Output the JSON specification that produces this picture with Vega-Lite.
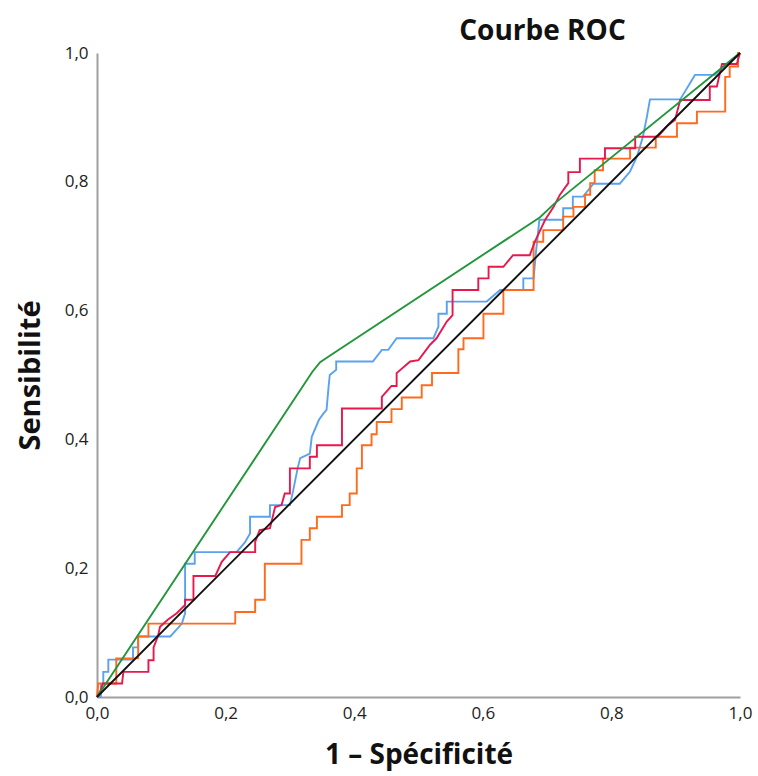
{
  "$schema": "https://vega.github.io/schema/vega-lite/v6.json",
  "width": 643,
  "height": 644,
  "autosize": {"type": "none"},
  "padding": {"left": 97, "top": 53, "right": 18, "bottom": 79},
  "background": "white",
  "title": {"text": "Courbe ROC", "font": "Open Sans", "fontSize": 28, "fontWeight": "bold", "color": "#111111", "anchor": "middle", "dx": 124, "offset": -2},
  "datasets": {
    "roc": [
      {"c": "b", "i": 1, "x": 0, "y": 0}, {"c": "b", "i": 2, "x": 0.006, "y": 0}, {"c": "b", "i": 3, "x": 0.006, "y": 0.02}, {"c": "b", "i": 4, "x": 0.0098, "y": 0.02},
      {"c": "b", "i": 5, "x": 0.0098, "y": 0.039}, {"c": "b", "i": 6, "x": 0.0176, "y": 0.039}, {"c": "b", "i": 7, "x": 0.0176, "y": 0.058}, {"c": "b", "i": 8, "x": 0.056, "y": 0.058},
      {"c": "b", "i": 9, "x": 0.056, "y": 0.077}, {"c": "b", "i": 10, "x": 0.064, "y": 0.077}, {"c": "b", "i": 11, "x": 0.064, "y": 0.094}, {"c": "b", "i": 12, "x": 0.114, "y": 0.094},
      {"c": "b", "i": 13, "x": 0.124, "y": 0.105}, {"c": "b", "i": 14, "x": 0.132, "y": 0.114}, {"c": "b", "i": 15, "x": 0.137, "y": 0.13}, {"c": "b", "i": 16, "x": 0.137, "y": 0.207},
      {"c": "b", "i": 17, "x": 0.152, "y": 0.207}, {"c": "b", "i": 18, "x": 0.152, "y": 0.225}, {"c": "b", "i": 19, "x": 0.217, "y": 0.225}, {"c": "b", "i": 20, "x": 0.23, "y": 0.24},
      {"c": "b", "i": 21, "x": 0.238, "y": 0.254}, {"c": "b", "i": 22, "x": 0.238, "y": 0.28}, {"c": "b", "i": 23, "x": 0.269, "y": 0.28}, {"c": "b", "i": 24, "x": 0.269, "y": 0.298},
      {"c": "b", "i": 25, "x": 0.3, "y": 0.298}, {"c": "b", "i": 26, "x": 0.305, "y": 0.32}, {"c": "b", "i": 27, "x": 0.312, "y": 0.355}, {"c": "b", "i": 28, "x": 0.316, "y": 0.371},
      {"c": "b", "i": 29, "x": 0.331, "y": 0.378}, {"c": "b", "i": 30, "x": 0.334, "y": 0.404}, {"c": "b", "i": 31, "x": 0.345, "y": 0.43}, {"c": "b", "i": 32, "x": 0.352, "y": 0.44},
      {"c": "b", "i": 33, "x": 0.357, "y": 0.446}, {"c": "b", "i": 34, "x": 0.36, "y": 0.48}, {"c": "b", "i": 35, "x": 0.362, "y": 0.5}, {"c": "b", "i": 36, "x": 0.372, "y": 0.508},
      {"c": "b", "i": 37, "x": 0.372, "y": 0.521}, {"c": "b", "i": 38, "x": 0.429, "y": 0.521}, {"c": "b", "i": 39, "x": 0.443, "y": 0.539}, {"c": "b", "i": 40, "x": 0.453, "y": 0.539},
      {"c": "b", "i": 41, "x": 0.466, "y": 0.557}, {"c": "b", "i": 42, "x": 0.523, "y": 0.557}, {"c": "b", "i": 43, "x": 0.531, "y": 0.575}, {"c": "b", "i": 44, "x": 0.531, "y": 0.595},
      {"c": "b", "i": 45, "x": 0.544, "y": 0.595}, {"c": "b", "i": 46, "x": 0.544, "y": 0.614}, {"c": "b", "i": 47, "x": 0.606, "y": 0.614}, {"c": "b", "i": 48, "x": 0.627, "y": 0.632},
      {"c": "b", "i": 49, "x": 0.663, "y": 0.632}, {"c": "b", "i": 50, "x": 0.663, "y": 0.65}, {"c": "b", "i": 51, "x": 0.679, "y": 0.65}, {"c": "b", "i": 52, "x": 0.683, "y": 0.694},
      {"c": "b", "i": 53, "x": 0.688, "y": 0.741}, {"c": "b", "i": 54, "x": 0.725, "y": 0.741}, {"c": "b", "i": 55, "x": 0.725, "y": 0.759}, {"c": "b", "i": 56, "x": 0.74, "y": 0.759},
      {"c": "b", "i": 57, "x": 0.74, "y": 0.777}, {"c": "b", "i": 58, "x": 0.756, "y": 0.777}, {"c": "b", "i": 59, "x": 0.772, "y": 0.797}, {"c": "b", "i": 60, "x": 0.813, "y": 0.797},
      {"c": "b", "i": 61, "x": 0.829, "y": 0.816}, {"c": "b", "i": 62, "x": 0.84, "y": 0.84}, {"c": "b", "i": 63, "x": 0.849, "y": 0.87}, {"c": "b", "i": 64, "x": 0.855, "y": 0.9},
      {"c": "b", "i": 65, "x": 0.86, "y": 0.928}, {"c": "b", "i": 66, "x": 0.907, "y": 0.928}, {"c": "b", "i": 67, "x": 0.93, "y": 0.966}, {"c": "b", "i": 68, "x": 0.961, "y": 0.966},
      {"c": "b", "i": 69, "x": 0.98, "y": 0.984}, {"c": "b", "i": 70, "x": 1, "y": 1},

      {"c": "o", "i": 1, "x": 0, "y": 0}, {"c": "o", "i": 2, "x": 0.002, "y": 0.021}, {"c": "o", "i": 3, "x": 0.03, "y": 0.021}, {"c": "o", "i": 4, "x": 0.03, "y": 0.06},
      {"c": "o", "i": 5, "x": 0.064, "y": 0.06}, {"c": "o", "i": 6, "x": 0.064, "y": 0.094}, {"c": "o", "i": 7, "x": 0.08, "y": 0.094}, {"c": "o", "i": 8, "x": 0.08, "y": 0.114},
      {"c": "o", "i": 9, "x": 0.215, "y": 0.114}, {"c": "o", "i": 10, "x": 0.215, "y": 0.132}, {"c": "o", "i": 11, "x": 0.246, "y": 0.132}, {"c": "o", "i": 12, "x": 0.246, "y": 0.151},
      {"c": "o", "i": 13, "x": 0.261, "y": 0.151}, {"c": "o", "i": 14, "x": 0.261, "y": 0.207}, {"c": "o", "i": 15, "x": 0.318, "y": 0.207}, {"c": "o", "i": 16, "x": 0.318, "y": 0.244},
      {"c": "o", "i": 17, "x": 0.331, "y": 0.244}, {"c": "o", "i": 18, "x": 0.331, "y": 0.262}, {"c": "o", "i": 19, "x": 0.342, "y": 0.262}, {"c": "o", "i": 20, "x": 0.342, "y": 0.28},
      {"c": "o", "i": 21, "x": 0.381, "y": 0.28}, {"c": "o", "i": 22, "x": 0.381, "y": 0.298}, {"c": "o", "i": 23, "x": 0.393, "y": 0.298}, {"c": "o", "i": 24, "x": 0.393, "y": 0.316},
      {"c": "o", "i": 25, "x": 0.404, "y": 0.316}, {"c": "o", "i": 26, "x": 0.404, "y": 0.355}, {"c": "o", "i": 27, "x": 0.412, "y": 0.355}, {"c": "o", "i": 28, "x": 0.412, "y": 0.391},
      {"c": "o", "i": 29, "x": 0.427, "y": 0.391}, {"c": "o", "i": 30, "x": 0.427, "y": 0.408}, {"c": "o", "i": 31, "x": 0.435, "y": 0.408}, {"c": "o", "i": 32, "x": 0.435, "y": 0.427},
      {"c": "o", "i": 33, "x": 0.458, "y": 0.427}, {"c": "o", "i": 34, "x": 0.458, "y": 0.447}, {"c": "o", "i": 35, "x": 0.474, "y": 0.447}, {"c": "o", "i": 36, "x": 0.474, "y": 0.465},
      {"c": "o", "i": 37, "x": 0.505, "y": 0.465}, {"c": "o", "i": 38, "x": 0.505, "y": 0.484}, {"c": "o", "i": 39, "x": 0.521, "y": 0.484}, {"c": "o", "i": 40, "x": 0.521, "y": 0.503},
      {"c": "o", "i": 41, "x": 0.562, "y": 0.503}, {"c": "o", "i": 42, "x": 0.562, "y": 0.54}, {"c": "o", "i": 43, "x": 0.57, "y": 0.54}, {"c": "o", "i": 44, "x": 0.57, "y": 0.557},
      {"c": "o", "i": 45, "x": 0.601, "y": 0.557}, {"c": "o", "i": 46, "x": 0.601, "y": 0.595}, {"c": "o", "i": 47, "x": 0.632, "y": 0.595}, {"c": "o", "i": 48, "x": 0.632, "y": 0.632},
      {"c": "o", "i": 49, "x": 0.679, "y": 0.632}, {"c": "o", "i": 50, "x": 0.679, "y": 0.707}, {"c": "o", "i": 51, "x": 0.694, "y": 0.707}, {"c": "o", "i": 52, "x": 0.694, "y": 0.725},
      {"c": "o", "i": 53, "x": 0.725, "y": 0.725}, {"c": "o", "i": 54, "x": 0.725, "y": 0.746}, {"c": "o", "i": 55, "x": 0.741, "y": 0.746}, {"c": "o", "i": 56, "x": 0.741, "y": 0.761},
      {"c": "o", "i": 57, "x": 0.759, "y": 0.761}, {"c": "o", "i": 58, "x": 0.759, "y": 0.78}, {"c": "o", "i": 59, "x": 0.767, "y": 0.78}, {"c": "o", "i": 60, "x": 0.767, "y": 0.798},
      {"c": "o", "i": 61, "x": 0.774, "y": 0.798}, {"c": "o", "i": 62, "x": 0.774, "y": 0.818}, {"c": "o", "i": 63, "x": 0.787, "y": 0.818}, {"c": "o", "i": 64, "x": 0.787, "y": 0.836},
      {"c": "o", "i": 65, "x": 0.829, "y": 0.836}, {"c": "o", "i": 66, "x": 0.829, "y": 0.853}, {"c": "o", "i": 67, "x": 0.869, "y": 0.853}, {"c": "o", "i": 68, "x": 0.869, "y": 0.87},
      {"c": "o", "i": 69, "x": 0.902, "y": 0.87}, {"c": "o", "i": 70, "x": 0.902, "y": 0.891}, {"c": "o", "i": 71, "x": 0.933, "y": 0.891}, {"c": "o", "i": 72, "x": 0.933, "y": 0.909},
      {"c": "o", "i": 73, "x": 0.977, "y": 0.909}, {"c": "o", "i": 74, "x": 0.977, "y": 0.963}, {"c": "o", "i": 75, "x": 0.984, "y": 0.963}, {"c": "o", "i": 76, "x": 0.984, "y": 0.979},
      {"c": "o", "i": 77, "x": 0.997, "y": 0.979}, {"c": "o", "i": 78, "x": 0.997, "y": 1}, {"c": "o", "i": 79, "x": 1, "y": 1},

      {"c": "r", "i": 1, "x": 0, "y": 0}, {"c": "r", "i": 2, "x": 0.006, "y": 0.011}, {"c": "r", "i": 3, "x": 0.009, "y": 0.021}, {"c": "r", "i": 4, "x": 0.039, "y": 0.021},
      {"c": "r", "i": 5, "x": 0.041, "y": 0.039}, {"c": "r", "i": 6, "x": 0.08, "y": 0.039}, {"c": "r", "i": 7, "x": 0.08, "y": 0.057}, {"c": "r", "i": 8, "x": 0.088, "y": 0.057},
      {"c": "r", "i": 9, "x": 0.088, "y": 0.077}, {"c": "r", "i": 10, "x": 0.095, "y": 0.095}, {"c": "r", "i": 11, "x": 0.098, "y": 0.109}, {"c": "r", "i": 12, "x": 0.11, "y": 0.12},
      {"c": "r", "i": 13, "x": 0.124, "y": 0.13}, {"c": "r", "i": 14, "x": 0.137, "y": 0.143}, {"c": "r", "i": 15, "x": 0.137, "y": 0.151}, {"c": "r", "i": 16, "x": 0.15, "y": 0.151},
      {"c": "r", "i": 17, "x": 0.15, "y": 0.188}, {"c": "r", "i": 18, "x": 0.184, "y": 0.188}, {"c": "r", "i": 19, "x": 0.194, "y": 0.21}, {"c": "r", "i": 20, "x": 0.207, "y": 0.225},
      {"c": "r", "i": 21, "x": 0.246, "y": 0.225}, {"c": "r", "i": 22, "x": 0.246, "y": 0.241}, {"c": "r", "i": 23, "x": 0.253, "y": 0.259}, {"c": "r", "i": 24, "x": 0.269, "y": 0.262},
      {"c": "r", "i": 25, "x": 0.277, "y": 0.295}, {"c": "r", "i": 26, "x": 0.287, "y": 0.298}, {"c": "r", "i": 27, "x": 0.292, "y": 0.316}, {"c": "r", "i": 28, "x": 0.3, "y": 0.316},
      {"c": "r", "i": 29, "x": 0.3, "y": 0.355}, {"c": "r", "i": 30, "x": 0.331, "y": 0.355}, {"c": "r", "i": 31, "x": 0.331, "y": 0.373}, {"c": "r", "i": 32, "x": 0.342, "y": 0.373},
      {"c": "r", "i": 33, "x": 0.342, "y": 0.391}, {"c": "r", "i": 34, "x": 0.381, "y": 0.391}, {"c": "r", "i": 35, "x": 0.381, "y": 0.448}, {"c": "r", "i": 36, "x": 0.443, "y": 0.448},
      {"c": "r", "i": 37, "x": 0.443, "y": 0.466}, {"c": "r", "i": 38, "x": 0.458, "y": 0.483}, {"c": "r", "i": 39, "x": 0.466, "y": 0.483}, {"c": "r", "i": 40, "x": 0.466, "y": 0.503},
      {"c": "r", "i": 41, "x": 0.487, "y": 0.521}, {"c": "r", "i": 42, "x": 0.5, "y": 0.523}, {"c": "r", "i": 43, "x": 0.518, "y": 0.547}, {"c": "r", "i": 44, "x": 0.528, "y": 0.557},
      {"c": "r", "i": 45, "x": 0.544, "y": 0.583}, {"c": "r", "i": 46, "x": 0.553, "y": 0.593}, {"c": "r", "i": 47, "x": 0.553, "y": 0.632}, {"c": "r", "i": 48, "x": 0.593, "y": 0.632},
      {"c": "r", "i": 49, "x": 0.593, "y": 0.65}, {"c": "r", "i": 50, "x": 0.609, "y": 0.65}, {"c": "r", "i": 51, "x": 0.609, "y": 0.668}, {"c": "r", "i": 52, "x": 0.632, "y": 0.668},
      {"c": "r", "i": 53, "x": 0.647, "y": 0.686}, {"c": "r", "i": 54, "x": 0.673, "y": 0.686}, {"c": "r", "i": 55, "x": 0.681, "y": 0.707}, {"c": "r", "i": 56, "x": 0.697, "y": 0.741},
      {"c": "r", "i": 57, "x": 0.71, "y": 0.761}, {"c": "r", "i": 58, "x": 0.72, "y": 0.78}, {"c": "r", "i": 59, "x": 0.733, "y": 0.798}, {"c": "r", "i": 60, "x": 0.733, "y": 0.815},
      {"c": "r", "i": 61, "x": 0.751, "y": 0.815}, {"c": "r", "i": 62, "x": 0.751, "y": 0.836}, {"c": "r", "i": 63, "x": 0.79, "y": 0.836}, {"c": "r", "i": 64, "x": 0.79, "y": 0.852},
      {"c": "r", "i": 65, "x": 0.837, "y": 0.852}, {"c": "r", "i": 66, "x": 0.837, "y": 0.87}, {"c": "r", "i": 67, "x": 0.872, "y": 0.87}, {"c": "r", "i": 68, "x": 0.888, "y": 0.888},
      {"c": "r", "i": 69, "x": 0.899, "y": 0.896}, {"c": "r", "i": 70, "x": 0.907, "y": 0.927}, {"c": "r", "i": 71, "x": 0.953, "y": 0.927}, {"c": "r", "i": 72, "x": 0.953, "y": 0.948},
      {"c": "r", "i": 73, "x": 0.964, "y": 0.948}, {"c": "r", "i": 74, "x": 0.972, "y": 0.983}, {"c": "r", "i": 75, "x": 0.995, "y": 0.983}, {"c": "r", "i": 76, "x": 1, "y": 1},

      {"c": "g", "i": 1, "x": 0, "y": 0}, {"c": "g", "i": 2, "x": 0.335, "y": 0.505}, {"c": "g", "i": 3, "x": 0.347, "y": 0.52}, {"c": "g", "i": 4, "x": 0.362, "y": 0.53},
      {"c": "g", "i": 5, "x": 0.689, "y": 0.745}, {"c": "g", "i": 6, "x": 0.71, "y": 0.765}, {"c": "g", "i": 7, "x": 1, "y": 1},

      {"c": "k", "i": 1, "x": 0, "y": 0}, {"c": "k", "i": 2, "x": 1, "y": 1}
    ]
  },
  "data": {"name": "roc"},
  "mark": {"type": "line", "strokeWidth": 1.9, "interpolate": "linear"},
  "encoding": {
    "x": {
      "field": "x", "type": "quantitative",
      "scale": {"domain": [0, 1], "nice": false, "zero": false},
      "axis": {
        "values": [0, 0.2, 0.4, 0.6, 0.8, 1],
        "labelExpr": "replace(format(datum.value, '.1f'), '.', ',')",
        "grid": false, "ticks": false, "labelFlush": false,
        "domainColor": "#a0a0a0", "domainWidth": 2,
        "labelFont": "Open Sans", "labelFontSize": 17, "labelColor": "#222222", "labelPadding": 8,
        "title": "1 – Spécificité", "titleFont": "Open Sans", "titleFontSize": 28, "titleFontWeight": "bold", "titleColor": "#111111", "titlePadding": 20
      }
    },
    "y": {
      "field": "y", "type": "quantitative",
      "scale": {"domain": [0, 1], "nice": false, "zero": false},
      "axis": {
        "values": [0, 0.2, 0.4, 0.6, 0.8, 1],
        "labelExpr": "replace(format(datum.value, '.1f'), '.', ',')",
        "grid": false, "ticks": false, "labelFlush": false,
        "domainColor": "#a0a0a0", "domainWidth": 2,
        "labelFont": "Open Sans", "labelFontSize": 17, "labelColor": "#222222", "labelPadding": 9,
        "title": "Sensibilité", "titleFont": "Open Sans", "titleFontSize": 29, "titleFontWeight": "bold", "titleColor": "#111111", "titlePadding": 19
      }
    },
    "color": {
      "field": "c", "type": "nominal",
      "scale": {"domain": ["b", "o", "r", "g", "k"], "range": ["#5AA2EE", "#FF6A1C", "#E8184C", "#22963A", "#111111"]},
      "legend": null
    },
    "order": {"field": "i", "type": "quantitative"}
  },
  "config": {"view": {"stroke": null}}
}
